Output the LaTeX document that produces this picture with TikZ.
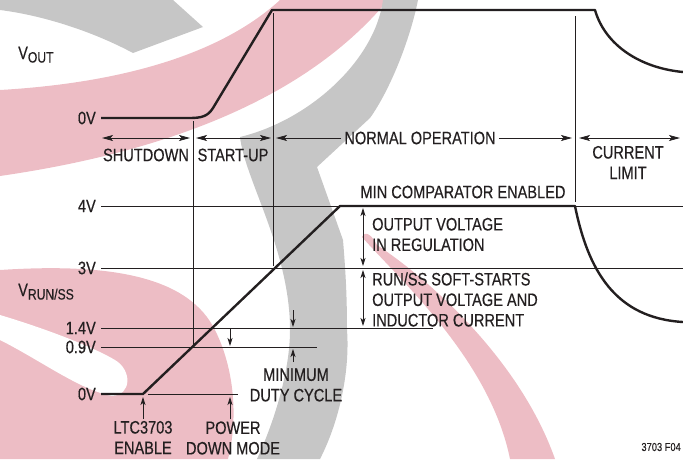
\documentclass[tikz,border=0pt]{standalone}
\usepackage{fontspec}
\setmainfont{Liberation Sans}[FakeStretch=0.81,FakeBold=0.4]
\usetikzlibrary{arrows.meta}

\definecolor{wmpink}{RGB}{237,189,197}
\definecolor{wmgray}{RGB}{198,198,198}
\definecolor{ink}{RGB}{35,31,32}

\newcommand{\lbl}{\fontsize{18}{20.5}\selectfont}
\newcommand{\lsub}[1]{\raisebox{-3.5pt}{\fontsize{15}{15}\selectfont #1}}

\tikzset{
  trace/.style={draw=ink,line width=2.4pt,line join=round},
  rule/.style={draw=ink,line width=0.8pt},
  span/.style={rule,>={Stealth[length=11pt,width=6pt,inset=2.5pt]},<->},
  smallspan/.style={rule,>={Stealth[length=8pt,width=5pt,inset=2pt]},<->},
  pointer/.style={rule,>={Stealth[length=8pt,width=5pt,inset=2pt]},->},
  bigpointer/.style={rule,>={Stealth[length=11pt,width=6pt,inset=2.5pt]},->}
}

\begin{document}
\begin{tikzpicture}[x=1pt,y=-1pt]
  \useasboundingbox (0,0) rectangle (683,459);

  % watermark
  \fill[wmgray] (0,0) -- (173,0) -- (203,27) -- (133,53)
    .. controls (90,30) and (40,15) .. (0,10) -- cycle;
  \fill[wmpink] (0,90) .. controls (120,83) and (220,55) .. (280,0) -- (388,0)
    .. controls (320,82) and (200,147) .. (0,176) -- cycle;
  \fill[wmgray] (383,0) .. controls (375,60) and (310,120) .. (240,137)
    .. controls (245,180) and (290,250) .. (290,330)
    .. controls (290,370) and (275,420) .. (257,459) -- (320,459)
    .. controls (340,420) and (350,370) .. (347,330)
    .. controls (347,290) and (345,265) .. (343,240) -- (317,167) -- (370,118)
    .. controls (390,90) and (410,40) .. (418,0) -- cycle;
  \fill[wmpink] (0,270) .. controls (120,262) and (190,280) .. (215,330)
    .. controls (235,370) and (238,420) .. (228,459) -- (0,459) -- cycle;
  \fill[white] (0,315) .. controls (50,330) and (95,348) .. (115,360)
    .. controls (132,370) and (132,395) .. (112,396)
    .. controls (80,390) and (40,360) .. (0,340) -- cycle;
  \fill[wmpink] (362,237) .. controls (400,280) and (490,360) .. (510,459) -- (555,459)
    .. controls (520,360) and (430,280) .. (377,245)
    .. controls (372,235) and (365,230) .. (362,237) -- cycle;

  % levels
  \begin{scope}[every node/.style={font=\lbl,text=ink,inner sep=0pt,anchor=east}]
    \node (ozero) at (96,118) {0V};
    \node (rfour) at (96,206) {4V};
    \node (rthree) at (96,268) {3V};
    \node (ronefour) at (96,328) {1.4V};
    \node (rzeronine) at (96,347) {0.9V};
    \node (rzero) at (96,394) {0V};
  \end{scope}
  \node[font=\lbl,text=ink,inner sep=0pt,anchor=base west] (vout) at (18,59) {V\lsub{OUT}};
  \node[font=\lbl,text=ink,inner sep=0pt,anchor=base west] (vrun) at (18,296) {V\lsub{RUN/SS}};

  \coordinate (four0) at (101,206);   \coordinate (four1) at (683,206);
  \coordinate (three0) at (101,268);  \coordinate (three1) at (683,268);
  \coordinate (onefour0) at (101,328); \coordinate (onefour1) at (433,328);
  \coordinate (zeronine0) at (101,347); \coordinate (zeronine1) at (317,347);
  \coordinate (zero0) at (148,394);   \coordinate (zero1) at (238,394);
  \path[rule] (four0) edge (four1)
              (three0) edge (three1)
              (onefour0) edge (onefour1)
              (zeronine0) edge (zeronine1)
              (zero0) edge (zero1);

  % phase boundaries
  \coordinate (sdtop) at (193,121);  \coordinate (sdbot) at (193,347);
  \coordinate (sutop) at (273,13);   \coordinate (subot) at (273,266);
  \coordinate (cltop) at (575,16);   \coordinate (clbot) at (575,202);
  \path[rule] (sdtop) edge (sdbot)
              (sutop) edge (subot)
              (cltop) edge (clbot);

  % traces
  \coordinate (vo0) at (101,118);
  \coordinate (vo1) at (190,118);
  \coordinate (vo2) at (213,108);
  \coordinate (vo3) at (272,10);
  \coordinate (vo4) at (595,10);
  \coordinate (vo5) at (683,72);
  \draw[trace] (vo0) -- (vo1) .. controls (202,118) and (208,116) .. (vo2)
    -- (vo3) -- (vo4) .. controls (605,45) and (640,68) .. (vo5);
  \coordinate (vr0) at (101,394);
  \coordinate (vr1) at (143,394);
  \coordinate (vr2) at (340,206);
  \coordinate (vr3) at (575,206);
  \coordinate (vr4) at (683,322);
  \draw[trace] (vr0) -- (vr1) -- (vr2) -- (vr3) .. controls (588,270) and (615,318) .. (vr4);

  % phase labels
  \begin{scope}[every node/.style={font=\lbl,text=ink,inner sep=0pt}]
    \node (shutdown) at (146,155) {SHUTDOWN};
    \node (startup) at (233,155) {START-UP};
    \node[inner xsep=3pt] (normal) at (420,138) {NORMAL OPERATION};
    \node[align=center] (climit) at (628,162.5) {CURRENT\\LIMIT};
    \node (mincomp) at (463,192) {MIN COMPARATOR ENABLED};
    \node[align=left,anchor=west] (inreg) at (372,234.5) {OUTPUT VOLTAGE\\IN REGULATION};
    \node[align=left,anchor=west] (softst) at (372,299.5) {RUN/SS SOFT-STARTS\\OUTPUT VOLTAGE AND\\INDUCTOR CURRENT};
    \node[align=center] (minduty) at (296,385) {MINIMUM\\DUTY CYCLE};
    \node[align=center] (enable) at (143,437.5) {LTC3703\\ENABLE};
    \node[align=center] (pdown) at (233,438) {POWER\\DOWN MODE};
    \node[font=\fontsize{11.5}{12}\selectfont,anchor=east] (fig) at (681,447) {3703 F04};
  \end{scope}

  \coordinate (sd1) at (102,138);  \coordinate (sd2) at (190,138);
  \coordinate (st1) at (196,138);  \coordinate (st2) at (271,138);
  \coordinate (no1) at (276,138);  \coordinate (no2) at (572,138);
  \coordinate (cl1) at (579,138);  \coordinate (cl2) at (680,138);
  \draw[span] (sd1) -- (sd2);
  \draw[span] (st1) -- (st2);
  \draw[bigpointer] (normal.west) -- (no1);
  \draw[bigpointer] (normal.east) -- (no2);
  \draw[span] (cl1) -- (cl2);

  % range arrows
  \coordinate (rg1) at (363,208);  \coordinate (rg2) at (363,266);
  \coordinate (ss1) at (363,270);  \coordinate (ss2) at (363,326);
  \draw[smallspan] (rg1) -- (rg2);
  \draw[smallspan] (ss1) -- (ss2);

  % pointers
  \coordinate (pd1) at (230,328);  \coordinate (pd2) at (230,346);
  \coordinate (md1) at (293,310);  \coordinate (md2) at (293,327);
  \coordinate (md3) at (293,362);  \coordinate (md4) at (293,349);
  \coordinate (en1) at (143,419);  \coordinate (en2) at (143,397);
  \coordinate (pw1) at (230,419);  \coordinate (pw2) at (230,397);
  \draw[pointer] (pd1) -- (pd2);
  \draw[pointer] (md1) -- (md2);
  \draw[pointer] (md3) -- (md4);
  \draw[pointer] (en1) -- (en2);
  \draw[pointer] (pw1) -- (pw2);
\end{tikzpicture}
\end{document}
